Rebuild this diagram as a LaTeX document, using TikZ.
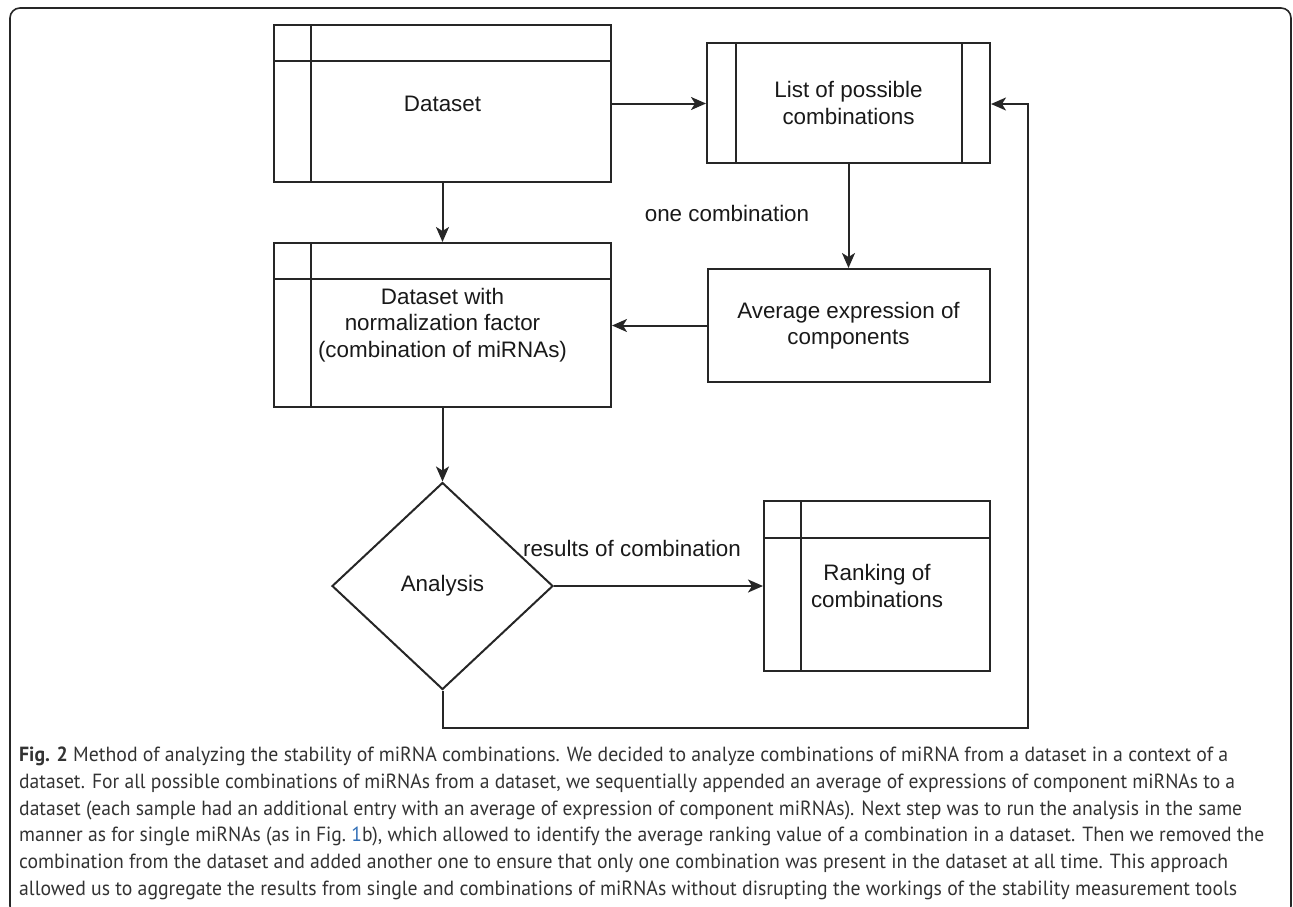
\documentclass[tikz,border=0pt]{standalone}
\usepackage{fontspec}
\setmainfont{Liberation Sans}
\newfontfamily\capfont{PT Sans}
\usetikzlibrary{arrows.meta,shapes.geometric}
\definecolor{ln}{HTML}{262626}
\definecolor{captxt}{HTML}{333333}
\definecolor{linkblue}{HTML}{2F6DB5}
\newcommand\diafont{\fontsize{22.4}{26.5}\selectfont}
\newcommand\capsize{\fontsize{20.5}{26.8}\selectfont}
\newcommand\fitline[2]{\setbox0\hbox{\capfont\capsize #2}\pgfmathsetmacro\mysx{#1/\the\wd0}\scalebox{\mysx}[1]{\box0}}
\begin{document}
\begin{tikzpicture}[x=1pt,y=-1pt,
  box/.style={draw=ln,line width=2pt,rectangle,inner sep=0pt,font=\diafont,align=center,text=black!90},
  inl/.style={draw=ln,line width=2pt},
  arr/.style={draw=ln,line width=2pt,-{Stealth[length=15pt,width=13pt,inset=4pt]}},
  lbl/.style={font=\diafont,text=black!90,inner sep=0pt},
  capl/.style={anchor=base west,inner sep=0pt,text=captxt}
]
\useasboundingbox (0,0) rectangle (1293,906);
% frame
\draw[line width=1.6pt,draw=black!85,rounded corners=10pt] (10,8) rectangle (1291,916);

% nodes
\node[box,minimum width=337pt,minimum height=157pt] (d1) at (442.5,103.5) {Dataset};
\node[box,minimum width=283pt,minimum height=120pt] (l) at (848.5,103) {List of possible\\combinations};
\node[box,minimum width=282pt,minimum height=113pt] (a) at (848.5,325.5) {Average expression of\\components};
\node[box,minimum width=337pt,minimum height=164pt] (d2) at (442.5,325) {Dataset with\\normalization factor\\(combination of miRNAs)};
\node[box,diamond,minimum width=221pt,minimum height=207pt] (an) at (442.5,586) {Analysis};
\node[box,minimum width=226pt,minimum height=170pt] (r) at (877,586) {Ranking of\\combinations};

% internal lines
\draw[inl] ([xshift=38pt]d1.north west) -- ([xshift=38pt]d1.south west);
\draw[inl] ([yshift=-37pt]d1.north west) -- ([yshift=-37pt]d1.north east);
\draw[inl] ([xshift=30pt]l.north west) -- ([xshift=30pt]l.south west);
\draw[inl] ([xshift=-29pt]l.north east) -- ([xshift=-29pt]l.south east);
\draw[inl] ([xshift=38pt]d2.north west) -- ([xshift=38pt]d2.south west);
\draw[inl] ([yshift=-37pt]d2.north west) -- ([yshift=-37pt]d2.north east);
\draw[inl] ([xshift=38pt]r.north west) -- ([xshift=38pt]r.south west);
\draw[inl] ([yshift=-38pt]r.north west) -- ([yshift=-38pt]r.north east);

% labels
\node[lbl] (oc) at (727,213) {one combination};
\node[lbl] (rc) at (632,548) {results of combination};

% connectors
\draw[arr] (d1.east) -- (d1.east -| l.west);
\draw[arr] (l.south) -- (l.south |- a.north);
\draw[arr] (a.west) -- (a.west -| d2.east);
\draw[arr] (d1.south) -- (d2.north);
\draw[arr] (d2.south) -- (an.north);
\draw[arr] (an.east) -- (an.east -| r.west);
\coordinate (fb1) at (442.5,728);
\coordinate (fb2) at (1028,728);
\coordinate (fb3) at (1028,104);
\draw[arr,line join=miter] (an.south) -- (fb1) -- (fb2) -- (fb3) -- (fb3 -| l.east);

% caption
\node[capl] (c1) at (19,761.5) {\fitline{1209}{\textbf{Fig. 2} Method of analyzing the stability of miRNA combinations. We decided to analyze combinations of miRNA from a dataset in a context of a}};
\node[capl] (c2) at (19,788.3) {\fitline{1216}{dataset. For all possible combinations of miRNAs from a dataset, we sequentially appended an average of expressions of component miRNAs to a}};
\node[capl] (c3) at (19,815.1) {\fitline{1223}{dataset (each sample had an additional entry with an average of expression of component miRNAs). Next step was to run the analysis in the same}};
\node[capl] (c4) at (19,841.9) {\fitline{1245}{manner as for single miRNAs (as in Fig.~{\color{linkblue}1}b), which allowed to identify the average ranking value of a combination in a dataset. Then we removed the}};
\node[capl] (c5) at (19,868.7) {\fitline{1209}{combination from the dataset and added another one to ensure that only one combination was present in the dataset at all time. This approach}};
\node[capl] (c6) at (19,895.5) {\fitline{1218}{allowed us to aggregate the results from single and combinations of miRNAs without disrupting the workings of the stability measurement tools}};
\end{tikzpicture}
\end{document}
